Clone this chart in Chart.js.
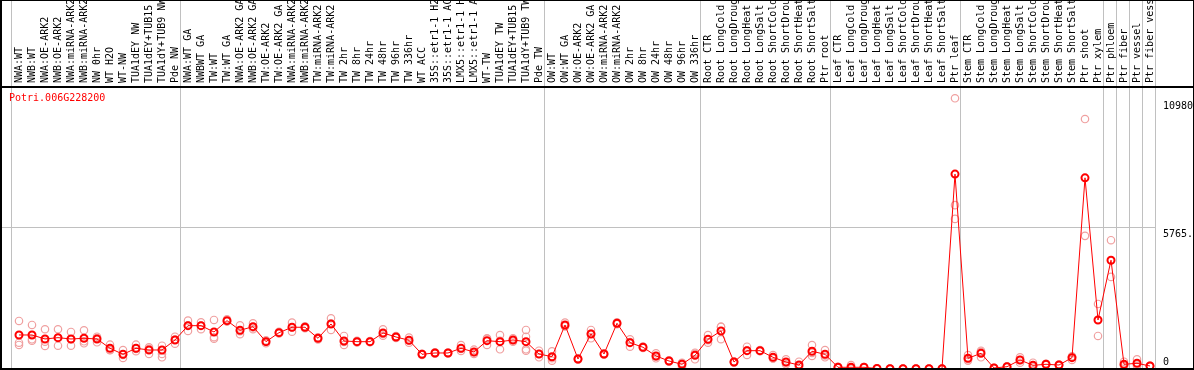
<!DOCTYPE html>
<html>
<head>
<meta charset="utf-8">
<script src="https://cdn.jsdelivr.net/npm/chart.js@4/dist/chart.umd.min.js"></script>
<style>
  body { margin: 0; background: #fff; }
  canvas { display: block; }
</style>
</head>
<body>
<canvas id="efp_chart" width="1194" height="370"></canvas>
<script>
const geneId = "Potri.006G228200";

const samples = [
  "NWA:WT", "NWB:WT", "NWA:OE-ARK2", "NWB:OE-ARK2", "NWA:miRNA-ARK2", "NWB:miRNA-ARK2",
  "NW 0hr", "WT H2O", "WT-NW", "TUA1dEY NW", "TUA1dEY+TUB15 NW", "TUA1dY+TUB9 NW", "Pde NW",
  "NWA:WT GA", "NWBWT GA", "TW:WT", "TW:WT GA", "NWA:OE-ARK2 GA", "NWB:OE-ARK2 GA",
  "TW:OE-ARK2", "TW:OE-ARK2 GA", "NWA:miRNA-ARK2 GA", "NWB:miRNA-ARK2 GA", "TW:miRNA-ARK2",
  "TW:miRNA-ARK2 GA", "TW 2hr", "TW 8hr", "TW 24hr", "TW 48hr", "TW 96hr", "TW 336hr",
  "WT ACC", "35S::etr1-1 H2O", "35S::etr1-1 ACC", "LMX5::etr1-1 H2O", "LMX5::etr1-1 ACC",
  "WT-TW", "TUA1dEY TW", "TUA1dEY+TUB15 TW", "TUA1dY+TUB9 TW", "Pde TW",
  "OW:WT", "OW:WT GA", "OW:OE-ARK2", "OW:OE-ARK2 GA", "OW:miRNA-ARK2", "OW:miRNA-ARK2 GA",
  "OW 2hr", "OW 8hr", "OW 24hr", "OW 48hr", "OW 96hr", "OW 336hr",
  "Root CTR", "Root LongCold", "Root LongDrought", "Root LongHeat", "Root LongSalt",
  "Root ShortCold", "Root ShortDrought", "Root ShortHeat", "Root ShortSalt", "Ptr root",
  "Leaf CTR", "Leaf LongCold", "Leaf LongDrought", "Leaf LongHeat", "Leaf LongSalt",
  "Leaf ShortCold", "Leaf ShortDrought", "Leaf ShortHeat", "Leaf ShortSalt", "Ptr leaf",
  "Stem CTR", "Stem LongCold", "Stem LongDrought", "Stem LongHeat", "Stem LongSalt",
  "Stem ShortCold", "Stem ShortDrought", "Stem ShortHeat", "Stem ShortSalt", "Ptr shoot",
  "Ptr xylem", "Ptr phloem", "Ptr fiber", "Ptr vessel", "Ptr fiber vessel"
];

// mean expression per sample (red line)
const means = [
  1380, 1380, 1218, 1271, 1218, 1246, 1218, 840, 597, 840, 771, 771, 1177,
  1758, 1758, 1502, 1961, 1571, 1717, 1108, 1474, 1693, 1693, 1246, 1827,
  1137, 1108, 1108, 1462, 1299, 1165, 597, 650, 650, 840, 690, 1149, 1108, 1177, 1108, 609,
  499, 1786, 406, 1421, 609, 1855, 1068, 881, 528, 325, 191, 556,
  1206, 1543, 284, 743, 743, 475, 284, 162, 719, 597,
  69, 69, 69, 20, 12, 12, 12, 12, 12, 7905,
  434, 637, 41, 93, 365, 150, 191, 162, 459, 7755,
  1989, 4413, 191, 231, 122
];

// replicate values (pink circles)
const rep1 = [
  1949, 1786, 1612, 1612, 1502, 1571, 1311, 987, 771, 987, 881, 946, 1311,
  1961, 1896, 1989, 2018, 1774, 1855, 1043, 1440, 1880, 1650, 1200, 2058,
  1340, 1080, 1090, 1612, 1260, 1271, 570, 620, 630, 974, 784, 1246, 1380, 1246, 1583, 743,
  719, 1880, 380, 1583, 580, 1820, 1206, 850, 637, 300, 93, 662,
  1380, 1717, 260, 905, 720, 568, 394, 296, 974, 771,
  50, 162, 60, 10, 5, 5, 5, 5, 5, 10980,
  568, 743, 30, 80, 475, 256, 170, 140, 499, 10138,
  2639, 5225, 296, 394, 110
];
const rep2 = [
  1068, 1149, 934, 946, 946, 1043, 1084, 759, 447, 719, 609, 609, 1027,
  1543, 1612, 1230, 1930, 1409, 1612, 1120, 1510, 1514, 1730, 1290, 1583,
  974, 1140, 1130, 1352, 1340, 1068, 620, 680, 670, 731, 609, 974, 800, 1108, 1311, 475,
  337, 1740, 430, 1246, 640, 1890, 905, 910, 434, 350, 230, 394,
  1068, 1206, 300, 568, 770, 430, 191, 100, 528, 475,
  90, 20, 80, 30, 20, 20, 20, 20, 20, 6646,
  394, 475, 50, 110, 256, 100, 210, 180, 365, 5400,
  1340, 3735, 122, 122, 130
];
const rep3 = [
  975, 1205, 1108, 1255, 1206, 1124, 1259, 774, 573, 814, 823, 475, 1193,
  1770, 1766, 1287, 1935, 1530, 1684, 1161, 1472, 1685, 1700, 1248, 1840,
  1097, 1104, 1104, 1422, 1297, 1156, 600, 650, 650, 815, 677, 1227, 1144, 1177, 800, 609,
  441, 1738, 408, 1434, 607, 1855, 1093, 883, 513, 325, 250, 612,
  1170, 1706, 292, 756, 739, 427, 267, 90, 655, 545,
  67, 25, 67, 20, 11, 11, 11, 11, 11, 6089,
  340, 693, 43, 89, 364, 94, 193, 166, 513, null,
  null, null, 155, 177, 126
];
const rep4 = {39: 743};

const yTicks = [0, 5765, 10980];
const yTickLabels = ["0", "5765.", "10980"];
// indices of the last sample in each group (vertical separators)
const groupEnds = [-1, 12, 40, 52, 62, 72, 83, 84, 85, 86, 87];

function toPoints(arr) {
  const pts = [];
  arr.forEach(function (v, i) {
    if (v !== null && v !== undefined) pts.push({ x: i, y: v });
  });
  return pts;
}

const repPoints = toPoints(rep1).concat(toPoints(rep2), toPoints(rep3));
Object.keys(rep4).forEach(function (k) {
  repPoints.push({ x: Number(k), y: rep4[k] });
});

const FONT = "10px 'DejaVu Sans Mono', monospace";

const efpFrame = {
  id: "efpFrame",
  beforeDatasetsDraw(chart) {
    const ctx = chart.ctx;
    const area = chart.chartArea;
    const xs = chart.scales.x;
    const ys = chart.scales.y;
    ctx.save();
    ctx.fillStyle = "#c0c0c0";
    // horizontal grid line
    const gy = Math.round(ys.getPixelForValue(yTicks[1]));
    ctx.fillRect(area.left, gy, area.right - area.left, 1);
    // group separators
    groupEnds.forEach(function (g) {
      const gx = Math.round(xs.getPixelForValue(g + 0.385));
      ctx.fillRect(gx, 0, 1, chart.height);
    });

    // sample labels in header
    ctx.save();
    ctx.beginPath();
    ctx.rect(2, 1, chart.width - 3, 85);
    ctx.clip();
    ctx.fillStyle = "#000";
    ctx.font = FONT;
    ctx.textAlign = "left";
    ctx.textBaseline = "alphabetic";
    samples.forEach(function (s, i) {
      const px = xs.getPixelForValue(i);
      ctx.save();
      ctx.translate(px + 3, 83);
      ctx.rotate(-Math.PI / 2);
      ctx.fillText(s, 0, 0);
      ctx.restore();
    });
    ctx.restore();

    // gene id
    ctx.fillStyle = "#ff0000";
    ctx.font = FONT;
    ctx.textBaseline = "middle";
    ctx.fillText(geneId, 9, 98);

    // y labels on the right
    ctx.fillStyle = "#000";
    yTicks.forEach(function (t, k) {
      const py = ys.getPixelForValue(t);
      if (t === 0) {
        ctx.textBaseline = "bottom";
        ctx.fillText(yTickLabels[k], area.right + 7, py - 2);
      } else {
        ctx.textBaseline = "top";
        ctx.fillText(yTickLabels[k], area.right + 7, py + 3);
      }
    });
    ctx.restore();
  },
  afterDatasetsDraw(chart) {
    const ctx = chart.ctx;
    ctx.save();
    ctx.fillStyle = "#000";
    ctx.fillRect(0, 0, chart.width, 1);
    ctx.fillRect(0, 0, 2, chart.height);
    ctx.fillRect(chart.width - 1, 0, 1, chart.height);
    ctx.fillRect(0, 86, chart.width, 2);
    ctx.fillRect(0, chart.height - 2, chart.width, 2);
    ctx.restore();
  },
};

new Chart(document.getElementById("efp_chart"), {
  type: "line",
  data: {
    datasets: [
      {
        label: "mean",
        data: toPoints(means),
        borderColor: "#ff0000",
        borderWidth: 1,
        pointRadius: 3.5,
        pointBorderWidth: 2,
        pointBorderColor: "#ff0000",
        pointBackgroundColor: "rgba(0,0,0,0)",
        tension: 0,
        clip: 0,
        order: 0,
      },
      {
        label: "replicates",
        data: repPoints,
        showLine: false,
        pointRadius: 3.7,
        pointBorderWidth: 1.2,
        pointBorderColor: "#f0a0a0",
        pointBackgroundColor: "rgba(0,0,0,0)",
        clip: 0,
        order: 1,
      },
    ],
  },
  options: {
    responsive: false,
    animation: false,
    events: [],
    layout: {
      autoPadding: false,
      padding: { left: 2, right: 38, top: 88, bottom: 1 },
    },
    plugins: {
      legend: { display: false },
      tooltip: { enabled: false },
    },
    scales: {
      x: {
        type: "linear",
        display: false,
        min: -17 / 13,
        max: -17 / 13 + 1154 / 13,
      },
      y: {
        type: "linear",
        display: false,
        min: 0,
        max: 11398,
      },
    },
  },
  plugins: [efpFrame],
});
</script>
</body>
</html>
